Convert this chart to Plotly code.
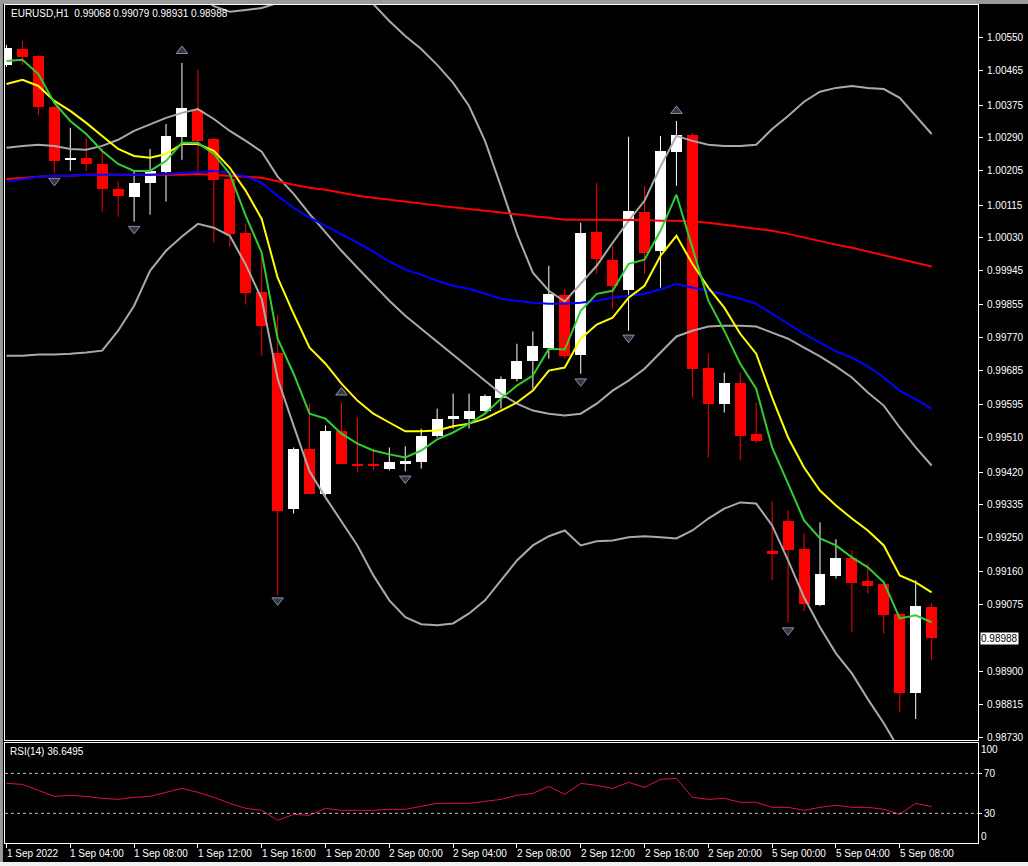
import plotly.graph_objects as go

# ---------------- data ----------------
time_labels = ["1 Sep 2022", "1 Sep 04:00", "1 Sep 08:00", "1 Sep 12:00", "1 Sep 16:00",
               "1 Sep 20:00", "2 Sep 00:00", "2 Sep 04:00", "2 Sep 08:00", "2 Sep 12:00",
               "2 Sep 16:00", "2 Sep 20:00", "5 Sep 00:00", "5 Sep 04:00", "5 Sep 08:00"]
label_bars = [0, 4, 8, 12, 16, 20, 24, 28, 32, 36, 40, 44, 48, 52, 56]

opens = [1.00480, 1.00522, 1.00503, 1.00371, 1.00233, 1.00238, 1.00222, 1.00157, 1.00137, 1.00173,
         1.00202, 1.00293, 1.00363, 1.00287, 1.00183, 1.00043, 0.99890, 0.99731, 0.99323, 0.99479,
         0.99364, 0.99528, 0.99442, 0.99442, 0.99429, 0.99442, 0.99445, 0.99513, 0.99557, 0.99559,
         0.99578, 0.99614, 0.99661, 0.99708, 0.99744, 0.99882, 0.99726, 1.00046, 0.99973, 0.99895,
         1.00098, 0.99996, 1.00254, 1.00298, 0.99692, 0.99598, 0.99653, 0.99520, 0.99214, 0.99292,
         0.99219, 0.99073, 0.99149, 0.99195, 0.99136, 0.99128, 0.99050, 0.98844, 0.99068]
highs = [1.00532, 1.00542, 1.00506, 1.00373, 1.00316, 1.00290, 1.00264, 1.00176, 1.00204, 1.00261,
         1.00326, 1.00485, 1.00467, 1.00290, 1.00186, 1.00066, 0.99988, 0.99830, 0.99484, 0.99598,
         0.99541, 0.99601, 0.99562, 0.99481, 0.99484, 0.99487, 0.99533, 0.99585, 0.99624, 0.99624,
         0.99622, 0.99669, 0.99754, 0.99786, 0.99957, 0.99897, 1.00069, 1.00173, 1.00009, 1.00293,
         1.00165, 1.00295, 1.00334, 1.00303, 0.99728, 0.99679, 0.99679, 0.99601, 0.99344, 0.99320,
         0.99260, 0.99289, 0.99245, 0.99216, 0.99182, 0.99130, 0.99052, 0.99138, 0.99079]
lows = [1.00475, 1.00480, 1.00350, 1.00199, 1.00204, 1.00204, 1.00098, 1.00085, 1.00072, 1.00090,
        1.00124, 1.00233, 1.00204, 1.00017, 1.00007, 0.99856, 0.99723, 0.99099, 0.99312, 0.99362,
        0.99359, 0.99441, 0.99419, 0.99424, 0.99424, 0.99422, 0.99429, 0.99510, 0.99533, 0.99533,
        0.99575, 0.99585, 0.99656, 0.99637, 0.99715, 0.99715, 0.99676, 0.99936, 0.99845, 0.99788,
        0.99936, 0.99900, 1.00165, 0.99614, 0.99458, 0.99575, 0.99450, 0.99497, 0.99138, 0.99029,
        0.99058, 0.99071, 0.99143, 0.99003, 0.99104, 0.99000, 0.98795, 0.98777, 0.98931]
closes = [1.00524, 1.00501, 1.00371, 1.00230, 1.00238, 1.00222, 1.00157, 1.00139, 1.00173, 1.00204,
          1.00295, 1.00368, 1.00282, 1.00181, 1.00040, 0.99887, 0.99801, 0.99318, 0.99481, 0.99364,
          0.99528, 0.99442, 0.99437, 0.99435, 0.99445, 0.99448, 0.99515, 0.99559, 0.99565, 0.99580,
          0.99617, 0.99663, 0.99710, 0.99747, 0.99884, 0.99723, 1.00043, 0.99975, 0.99905, 1.00100,
          0.99991, 1.00256, 1.00298, 0.99687, 0.99598, 0.99653, 0.99515, 0.99502, 0.99206, 0.99216,
          0.99076, 0.99154, 0.99195, 0.99130, 0.99123, 0.99047, 0.98844, 0.99071, 0.98988]

ma_green = [1.00490, 1.00493, 1.00456, 1.00381, 1.00334, 1.00300, 1.00256, 1.00222, 1.00204, 1.00204,
            1.00230, 1.00277, 1.00277, 1.00248, 1.00196, 1.00087, 0.99991, 0.99767, 0.99676, 0.99572,
            0.99559, 0.99520, 0.99494, 0.99476, 0.99466, 0.99458, 0.99476, 0.99505, 0.99523, 0.99546,
            0.99572, 0.99611, 0.99645, 0.99671, 0.99741, 0.99739, 0.99840, 0.99884, 0.99892, 0.99962,
            0.99973, 1.00048, 1.00142, 1.00004, 0.99866, 0.99788, 0.99702, 0.99637, 0.99484, 0.99390,
            0.99294, 0.99247, 0.99229, 0.99198, 0.99172, 0.99133, 0.99039, 0.99047, 0.99029]
ma_yellow = [1.00430, 1.00441, 1.00425, 1.00386, 1.00360, 1.00329, 1.00295, 1.00261, 1.00243, 1.00238,
             1.00248, 1.00274, 1.00274, 1.00256, 1.00212, 1.00152, 1.00079, 0.99926, 0.99832, 0.99744,
             0.99702, 0.99650, 0.99606, 0.99572, 0.99549, 0.99526, 0.99526, 0.99528, 0.99539, 0.99546,
             0.99559, 0.99580, 0.99601, 0.99632, 0.99684, 0.99692, 0.99767, 0.99804, 0.99822, 0.99874,
             0.99905, 0.99983, 1.00035, 0.99962, 0.99900, 0.99848, 0.99780, 0.99728, 0.99614, 0.99510,
             0.99432, 0.99372, 0.99333, 0.99299, 0.99268, 0.99229, 0.99151, 0.99133, 0.99107]
ma_blue = [1.00176, 1.00183, 1.00189, 1.00191, 1.00191, 1.00194, 1.00194, 1.00194, 1.00194, 1.00194,
           1.00196, 1.00199, 1.00202, 1.00204, 1.00199, 1.00189, 1.00173, 1.00139, 1.00108, 1.00082,
           1.00061, 1.00040, 1.00017, 0.99994, 0.99968, 0.99947, 0.99934, 0.99918, 0.99905, 0.99897,
           0.99884, 0.99871, 0.99866, 0.99861, 0.99858, 0.99858, 0.99861, 0.99866, 0.99874, 0.99879,
           0.99884, 0.99895, 0.99910, 0.99900, 0.99892, 0.99882, 0.99871, 0.99858, 0.99832, 0.99804,
           0.99780, 0.99757, 0.99734, 0.99718, 0.99695, 0.99666, 0.99632, 0.99609, 0.99585]
ma_red = [1.00183, 1.00186, 1.00189, 1.00191, 1.00191, 1.00194, 1.00194, 1.00194, 1.00194, 1.00194,
          1.00194, 1.00194, 1.00196, 1.00194, 1.00191, 1.00189, 1.00186, 1.00176, 1.00168, 1.00160,
          1.00155, 1.00147, 1.00139, 1.00134, 1.00129, 1.00124, 1.00118, 1.00113, 1.00109, 1.00105,
          1.00100, 1.00095, 1.00090, 1.00086, 1.00082, 1.00077, 1.00077, 1.00077, 1.00077, 1.00077,
          1.00076, 1.00074, 1.00074, 1.00072, 1.00069, 1.00064, 1.00059, 1.00053, 1.00048, 1.00040,
          1.00030, 1.00020, 1.00012, 1.00004, 0.99994, 0.99986, 0.99975, 0.99965, 0.99955]
bb_upper = [1.00805, 1.00815, 1.00818, 1.00813, 1.00794, 1.00787, 1.00802, 1.00781, 1.00763, 1.00703,
            1.00688, 1.00677, 1.00664, 1.00633, 1.00618, 1.00623, 1.00628, 1.00641, 1.00644, 1.00672,
            1.00685, 1.00677, 1.00662, 1.00638, 1.00594, 1.00555, 1.00521, 1.00480, 1.00433, 1.00373,
            1.00282, 1.00163, 1.00040, 0.99939, 0.99892, 0.99864, 0.99910, 0.99957, 1.00017, 1.00074,
            1.00126, 1.00215, 1.00295, 1.00282, 1.00272, 1.00269, 1.00269, 1.00272, 1.00313, 1.00347,
            1.00384, 1.00410, 1.00420, 1.00425, 1.00420, 1.00417, 1.00394, 1.00347, 1.00300]
bb_middle = [1.00264, 1.00269, 1.00272, 1.00269, 1.00261, 1.00259, 1.00269, 1.00285, 1.00308, 1.00324,
             1.00342, 1.00355, 1.00365, 1.00339, 1.00308, 1.00282, 1.00254, 1.00189, 1.00144, 1.00092,
             1.00043, 0.99996, 0.99952, 0.99910, 0.99866, 0.99827, 0.99793, 0.99760, 0.99726, 0.99692,
             0.99658, 0.99624, 0.99598, 0.99580, 0.99572, 0.99567, 0.99572, 0.99598, 0.99632, 0.99658,
             0.99689, 0.99731, 0.99773, 0.99788, 0.99799, 0.99801, 0.99801, 0.99799, 0.99783, 0.99767,
             0.99744, 0.99721, 0.99695, 0.99666, 0.99627, 0.99593, 0.99536, 0.99484, 0.99437]
bb_lower = [0.99723, 0.99723, 0.99726, 0.99726, 0.99728, 0.99731, 0.99736, 0.99788, 0.99853, 0.99944,
            0.99996, 1.00033, 1.00066, 1.00056, 1.00035, 0.99960, 0.99871, 0.99663, 0.99541, 0.99422,
            0.99354, 0.99292, 0.99229, 0.99151, 0.99086, 0.99042, 0.99024, 0.99021, 0.99026, 0.99052,
            0.99086, 0.99138, 0.99190, 0.99229, 0.99253, 0.99268, 0.99229, 0.99240, 0.99242, 0.99250,
            0.99253, 0.99250, 0.99247, 0.99268, 0.99299, 0.99325, 0.99341, 0.99338, 0.99281, 0.99190,
            0.99094, 0.99016, 0.98948, 0.98896, 0.98829, 0.98766, 0.98696, 0.98618, 0.98540]
rsi = [60, 59, 53, 47, 48, 47, 45, 44, 46, 47,
       51, 55, 51, 46, 40, 35, 33, 23, 29, 28,
       35, 33, 33, 33, 34, 34, 37, 40, 40, 40,
       42, 44, 48, 50, 57, 49, 60, 58, 55, 61,
       56, 64, 65, 46, 44, 45, 41, 41, 36, 36,
       33, 36, 38, 36, 36, 34, 29, 40, 36.6495]

fractal_up_bars = [11, 21, 42]
fractal_up_vals = [1.00516, 0.99627, 1.00360]
fractal_dn_bars = [3, 8, 17, 25, 36, 39, 49]
fractal_dn_vals = [1.00178, 1.00053, 0.99086, 0.99403, 0.99656, 0.99770, 0.99008]

price_ticks = [1.00550, 1.00465, 1.00375, 1.00290, 1.00205, 1.00115, 1.00030, 0.99945, 0.99855,
               0.99770, 0.99685, 0.99595, 0.99510, 0.99420, 0.99335, 0.99250, 0.99160, 0.99075,
               0.98900, 0.98815, 0.98730]
rsi_levels = [70, 30]
symbol = "EURUSD,H1"
rsi_name = "RSI(14)"

# ---------------- figure ----------------
FONT = "Liberation Sans"
FS = 10
n = len(opens)
xs = list(range(n))
min_body = 0.00003

fig = go.Figure()

# wicks
for bull in (True, False):
    wx, wy = [], []
    for i in xs:
        if (closes[i] >= opens[i]) == bull:
            wx += [i, i, None]
            wy += [lows[i], highs[i], None]
    fig.add_trace(go.Scatter(x=wx, y=wy, mode="lines", xaxis="x", yaxis="y",
                             line=dict(color="white" if bull else "#ff0000", width=1),
                             hoverinfo="skip"))

# bodies
for bull in (True, False):
    bx, bb, bh = [], [], []
    for i in xs:
        if (closes[i] >= opens[i]) == bull:
            lo = min(opens[i], closes[i])
            h = abs(closes[i] - opens[i])
            bx.append(i)
            bb.append(lo)
            bh.append(max(h, min_body))
    fig.add_trace(go.Bar(x=bx, y=bh, base=bb, width=0.6875, xaxis="x", yaxis="y",
                         marker=dict(color="white" if bull else "#ff0000", line=dict(width=0)),
                         hoverinfo="skip"))

# bollinger bands
for series in (bb_upper, bb_middle, bb_lower):
    fig.add_trace(go.Scatter(x=xs, y=series, mode="lines", xaxis="x", yaxis="y",
                             line=dict(color="#a9a9a9", width=2), hoverinfo="skip"))
# moving averages
for series, col in ((ma_red, "#ff0000"), (ma_blue, "#0000ff"), (ma_yellow, "#ffff00"), (ma_green, "#32cd32")):
    fig.add_trace(go.Scatter(x=xs, y=series, mode="lines", xaxis="x", yaxis="y",
                             line=dict(color=col, width=2), hoverinfo="skip"))

# fractals
fig.add_trace(go.Scatter(x=fractal_up_bars, y=fractal_up_vals, mode="markers", xaxis="x", yaxis="y",
                         marker=dict(symbol="triangle-up", size=10, color="#343846",
                                     line=dict(color="#8890a0", width=1)), hoverinfo="skip"))
fig.add_trace(go.Scatter(x=fractal_dn_bars, y=fractal_dn_vals, mode="markers", xaxis="x", yaxis="y",
                         marker=dict(symbol="triangle-down", size=10, color="#343846",
                                     line=dict(color="#8890a0", width=1)), hoverinfo="skip"))

# RSI
fig.add_trace(go.Scatter(x=xs, y=rsi, mode="lines", xaxis="x2", yaxis="y2",
                         line=dict(color="#dc143c", width=1), hoverinfo="skip"))

shapes = []
for lv in rsi_levels:
    shapes.append(dict(type="line", xref="x2 domain", yref="y2", x0=0, x1=1, y0=lv, y1=lv,
                       line=dict(color="#c0c0c0", width=1, dash="3px,3px")))
# window frame strips
shapes.append(dict(type="rect", xref="paper", yref="paper", x0=-0.01, x1=1.06, y0=1.0012, y1=1.006,
                   fillcolor="#9a9a9a", line=dict(width=0)))
shapes.append(dict(type="rect", xref="paper", yref="paper", x0=-0.01, x1=-0.0021, y0=-0.03, y1=1.01,
                   fillcolor="#9a9a9a", line=dict(width=0)))
shapes.append(dict(type="rect", xref="paper", yref="paper", x0=-0.01, x1=1.06, y0=-0.03, y1=-0.0228,
                   fillcolor="#f0f0f0", line=dict(width=0)))

annotations = []
for b, t in zip(label_bars, time_labels):
    annotations.append(dict(x=b, y=0, xref="x2", yref="paper", text=t, showarrow=False,
                            xanchor="left", yanchor="top", xshift=-2, yshift=-3,
                            font=dict(family=FONT, size=FS, color="white")))
annotations.append(dict(x=0, y=1, xref="paper", yref="paper",
                        text=f"{symbol}\u00a0\u00a0{opens[-1]:.5f} {highs[-1]:.5f} {lows[-1]:.5f} {closes[-1]:.5f}",
                        showarrow=False, xanchor="left", yanchor="top", xshift=4, yshift=-1,
                        font=dict(family=FONT, size=FS, color="white")))
annotations.append(dict(x=0, y=1, xref="paper", yref="y2 domain", text=f"{rsi_name} {rsi[-1]:.4f}",
                        showarrow=False, xanchor="left", yanchor="top", xshift=3, yshift=-1,
                        font=dict(family=FONT, size=FS, color="white")))
annotations.append(dict(x=1, y=closes[-1], xref="paper", yref="y", text=f"{closes[-1]:.5f}",
                        showarrow=False, xanchor="left", yanchor="middle", xshift=2,
                        bgcolor="white", borderpad=0,
                        font=dict(family=FONT, size=FS, color="black")))
for v, yy in (("100", 93.5), ("0", 6.5)):
    annotations.append(dict(x=1, y=yy, xref="paper", yref="y2", text=v, showarrow=False,
                            xanchor="left", yanchor="middle", xshift=1,
                            font=dict(family=FONT, size=FS, color="white")))

axis_common = dict(showgrid=False, zeroline=False, showline=True, mirror=True,
                   linecolor="white", linewidth=1)

fig.update_layout(
    width=1028, height=866,
    paper_bgcolor="black", plot_bgcolor="black",
    margin=dict(l=4, r=48, t=4, b=23),
    showlegend=False, barmode="overlay", bargap=0,
    xaxis=dict(domain=[0, 1], range=[-0.09375, 60.90625], anchor="y", showticklabels=False,
               ticks="", **axis_common),
    yaxis=dict(domain=[0.12277, 1], range=[0.987222, 1.006358], side="right", anchor="x",
               tickvals=price_ticks, ticktext=[f"{v:.5f}" for v in price_ticks],
               ticks="outside", ticklen=4, tickcolor="white", ticklabelstandoff=2,
               tickfont=dict(family=FONT, size=FS, color="white"), **axis_common),
    xaxis2=dict(domain=[0, 1], range=[-0.09375, 60.90625], anchor="y2", matches="x",
                tickvals=label_bars, ticks="outside", ticklen=4, tickcolor="white",
                showticklabels=False, **axis_common),
    yaxis2=dict(domain=[0, 0.11919], range=[0.3, 100.3], side="right", anchor="x2",
                tickvals=rsi_levels, ticktext=[str(v) for v in rsi_levels],
                ticks="outside", ticklen=3, tickcolor="white",
                tickfont=dict(family=FONT, size=FS, color="white"), **axis_common),
    shapes=shapes, annotations=annotations,
)

fig.write_html("out.html", config={"displayModeBar": False},
               post_script="document.body.style.margin='0';document.body.style.overflow='hidden';")
